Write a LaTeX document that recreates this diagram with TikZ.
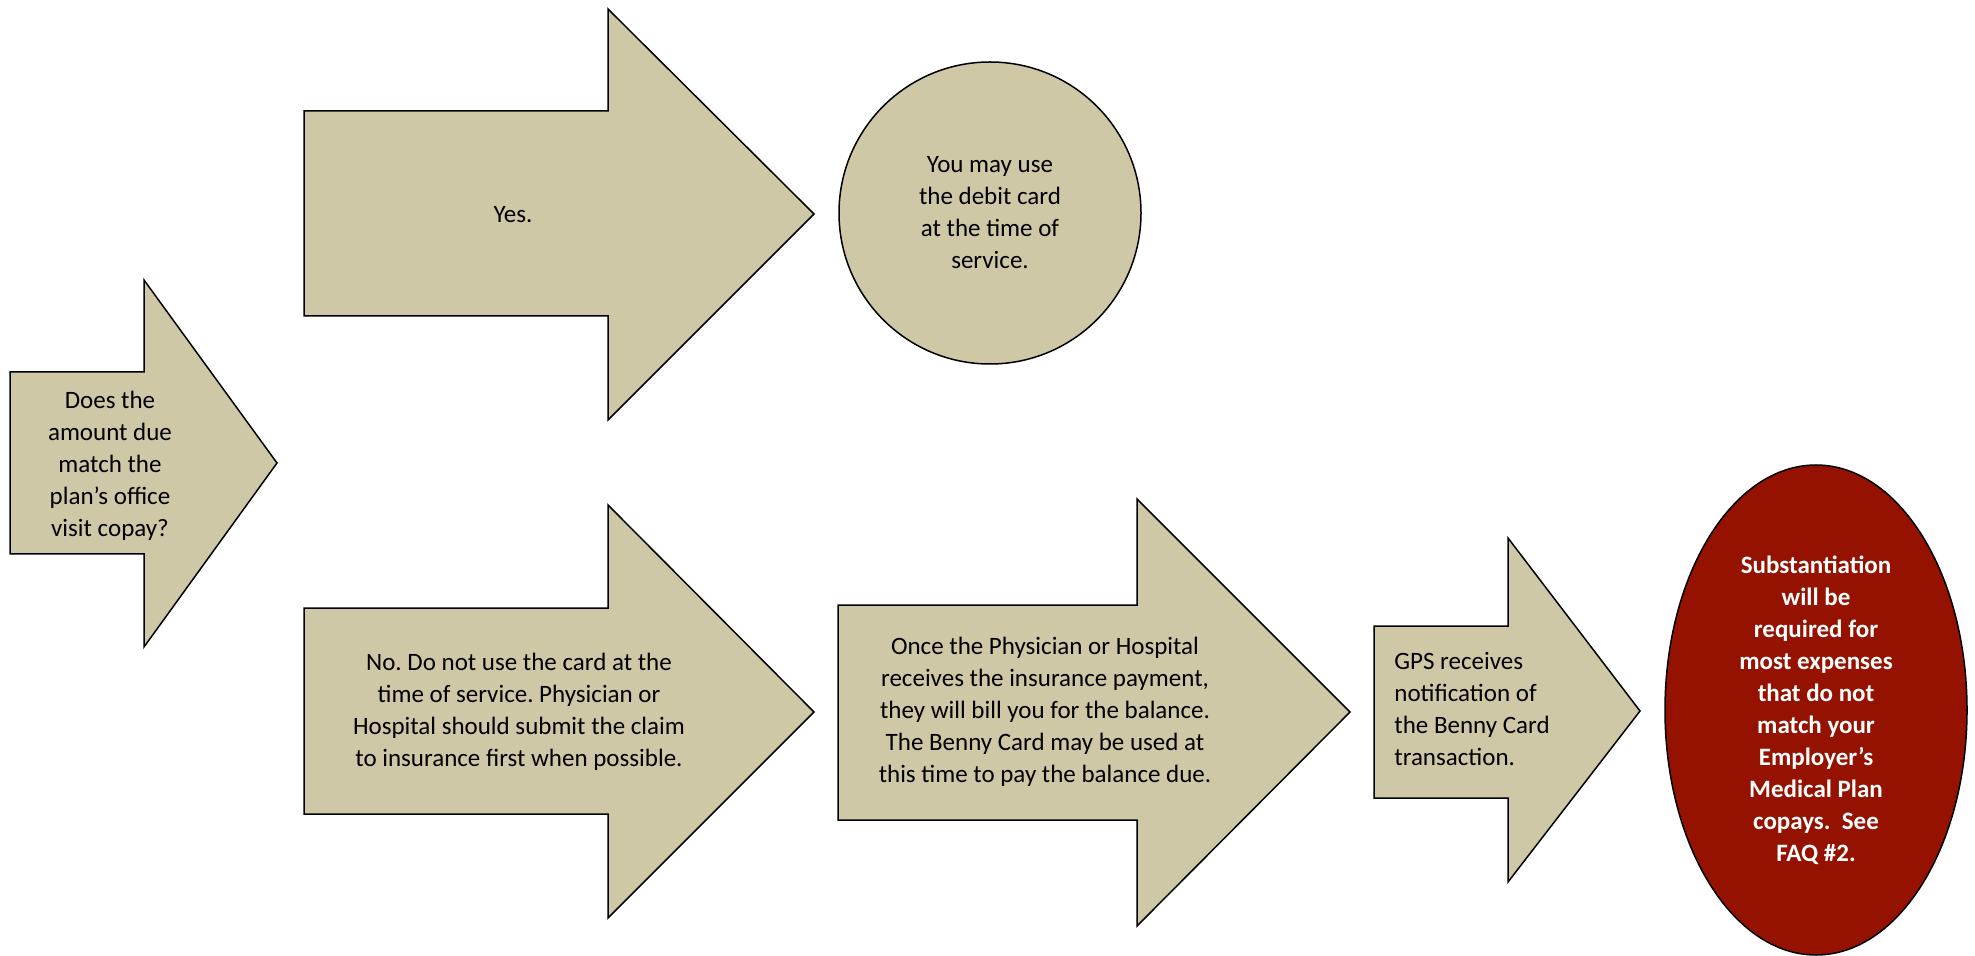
\documentclass[tikz,border=0pt]{standalone}
\usepackage{fontspec}
\setmainfont{Carlito}
\usetikzlibrary{shapes.geometric}
\definecolor{tan}{RGB}{207,200,166}
\definecolor{darkred}{RGB}{150,18,0}
\tikzset{
  blk/.style={draw=black, fill=tan, line width=0.75pt, line join=miter},
  txt/.style={align=center, inner sep=0pt, font=\fontsize{12.5}{16}\selectfont},
}
\frenchspacing
\begin{document}
\begin{tikzpicture}[x=0.5pt, y=-0.5pt]
	\useasboundingbox (0,0) rectangle (1975,956);
	\draw[blk] (10,372)--(144,372)--(144,280)--(277,463)--(144,647)--(144,554)--(10,554)--cycle;
	\draw[blk] (304,111)--(608,111)--(608,9)--(814,214)--(608,420)--(608,316)--(304,316)--cycle;
	\draw[blk] (304,608)--(608,608)--(608,505)--(814,712)--(608,918)--(608,814)--(304,814)--cycle;
	\draw[blk] (838,605)--(1137,605)--(1137,499)--(1350,712)--(1137,926)--(1137,820)--(838,820)--cycle;
	\draw[blk] (1374,626)--(1508,626)--(1508,538)--(1640,711)--(1508,882)--(1508,798)--(1374,798)--cycle;
	\node[txt] (q) at (110,466) {Does the\\amount due\\match the\\plan’s office\\visit copay?};
	\node[txt] (yes) at (513,215) {Yes.};
	\node[txt, circle, draw=black, fill=tan, line width=0.75pt, minimum size=151pt] (use) at (990,213) {You may use\\the debit card\\at the time of\\service.};
	\node[txt] (no) at (519,712) {No. Do not use the card at the\\time of service. Physician or\\Hospital should submit the claim\\to insurance first when possible.};
	\node[txt] (once) at (1045,712) {Once the Physician or Hospital\\receives the insurance payment,\\they will bill you for the balance.\\The Benny Card may be used at\\this time to pay the balance due.};
	\node[txt, align=left, anchor=west] (gps) at (1394,709) {GPS receives\\notification of\\the Benny Card\\transaction.};
	\node[txt, ellipse, draw=black, fill=darkred, text=white, line width=0.75pt, minimum width=151pt, minimum height=245pt, font=\fontsize{12.5}{16}\selectfont\bfseries] (subst) at (1816,710) {Substantiation\\will be\\required for\\most expenses\\that do not\\match your\\Employer’s\\Medical Plan\\copays.~ See\\FAQ \#2.};
\end{tikzpicture}
\end{document}
